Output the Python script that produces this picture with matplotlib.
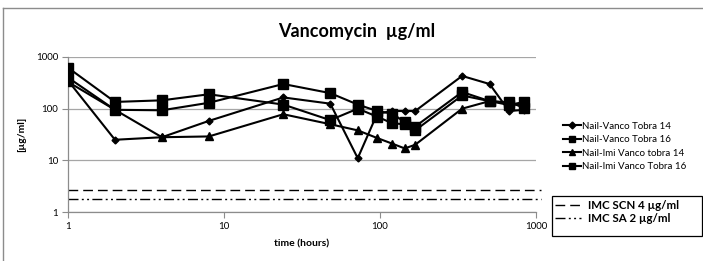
import numpy as np
import matplotlib
matplotlib.use('Agg')
import matplotlib.pyplot as plt
from matplotlib.lines import Line2D
from matplotlib.patches import Rectangle

plt.rcParams['font.family'] = ['Lato', 'DejaVu Sans']

# sampling times (hours)
times = [1, 2, 4, 8, 24, 48, 72, 96, 120, 144, 168, 336, 504, 672, 840]

# vancomycin concentration, ug/ml
nail_vt14 = [350, 25, 28, 58, 165, 125, 11, 80, 90, 90, 90, 430, 300, 90, 95]
nail_vt16 = [620, 135, 145, 190, 120, 60, 100, 70, 52, 50, 38, 180, 140, 118, 135]
imi_vt14 = [330, 95, 28, 29, 78, 50, 38, 27, 21, 17, 20, 100, 140, 130, 110]
imi_vt16 = [400, 95, 93, 130, 300, 200, 120, 90, 80, 55, 45, 210, 140, 132, 105]

series_labels = ['Nail-Vanco Tobra 14', 'Nail-Vanco Tobra 16',
                 'Nail-Imi Vanco tobra 14', 'Nail-Imi Vanco Tobra 16']

# reference levels
imc_scn = 2.7
imc_sa = 1.75
ref_labels = ['IMC SCN 4 \u00b5g/ml', 'IMC SA 2 \u00b5g/ml']

W, H = 703, 261
fig = plt.figure(figsize=(W / 100, H / 100), dpi=100)
ax = fig.add_axes([68 / W, 1 - 212 / H, (536 - 68) / W, (212 - 57) / H])

lw = 1.5
ax.plot(times, nail_vt14, color='black', lw=lw, marker='D', ms=3.5, zorder=3)
ax.plot(times, nail_vt16, color='black', lw=lw, marker='s', ms=6.5, zorder=3)
ax.plot(times, imi_vt14, color='black', lw=lw, marker='^', ms=6, zorder=3)
ax.plot(times, imi_vt16, color='black', lw=lw, marker='s', ms=6.5, zorder=3)

dash_scn = (0, (7, 3.6))
dash_sa = (0, (7.2, 2.4, 1.4, 2.4, 1.4, 2.4))
ax.plot([1, 1080], [imc_scn, imc_scn], color='black', lw=1.0,
        linestyle=dash_scn, clip_on=False)
ax.plot([1, 1080], [imc_sa, imc_sa], color='black', lw=1.0,
        linestyle=dash_sa, clip_on=False)

ax.set_xscale('log')
ax.set_yscale('log')
ax.set_xlim(1, 1000)
ax.set_ylim(1, 1000)
ax.set_xticks([1, 10, 100, 1000])
ax.set_xticklabels(['1', '10', '100', '1000'])
ax.set_yticks([1, 10, 100, 1000])
ax.set_yticklabels(['1', '10', '100', '1000'])
ax.minorticks_off()
ax.tick_params(axis='both', labelsize=7, length=4, color='#8c8c8c',
               direction='out', pad=3)
ax.grid(axis='y', color='#a6a6a6', lw=0.9)
ax.set_axisbelow(True)
for s in ['top', 'right']:
    ax.spines[s].set_visible(False)
for s in ['left', 'bottom']:
    ax.spines[s].set_color('#8c8c8c')
    ax.spines[s].set_linewidth(0.9)

ax.set_xlabel('time (hours)', fontsize=7.5, fontweight='bold', labelpad=6)
ax.set_ylabel('[\u00b5g/ml]', fontsize=7.5, fontweight='bold', labelpad=7)

fig.text(357 / W, 1 - 32 / H, 'Vancomycin  \u00b5g/ml', fontsize=13,
         fontweight='bold', ha='center', va='center')

# series legend (no frame)
handles = [
    Line2D([], [], color='black', lw=lw, marker='D', ms=3.5),
    Line2D([], [], color='black', lw=lw, marker='s', ms=5),
    Line2D([], [], color='black', lw=lw, marker='^', ms=5),
    Line2D([], [], color='black', lw=lw, marker='s', ms=5),
]
leg1 = fig.legend(handles, series_labels, loc='upper left',
                  bbox_to_anchor=(556 / W, 1 - 115 / H), frameon=False,
                  fontsize=7, handlelength=1.9, handletextpad=0.1,
                  labelspacing=0.45, borderpad=0.2)

# reference legend (box drawn separately)
ref_handles = [
    Line2D([], [], color='black', lw=1.0, linestyle=dash_scn),
    Line2D([], [], color='black', lw=1.0, linestyle=dash_sa),
]
leg2 = fig.legend(ref_handles, ref_labels, loc='upper left',
                  bbox_to_anchor=(552 / W, 1 - 197 / H), frameon=False,
                  fontsize=8.3, handlelength=2.2, handletextpad=0.6,
                  labelspacing=0.1, borderpad=0.3, borderaxespad=0)
for t in leg2.get_texts():
    t.set_fontweight('bold')
fig.add_artist(Rectangle((552 / W, 1 - 236 / H), 150 / W, 40 / H,
                         transform=fig.transFigure, fill=False,
                         edgecolor='black', lw=0.9))

# chart border
fig.add_artist(Line2D([3 / W, 3 / W], [0, 1 - 8 / H], color='#8c8c8c',
                      lw=1.0, transform=fig.transFigure))
fig.add_artist(Line2D([3 / W, 1], [1 - 8 / H, 1 - 8 / H], color='#8c8c8c',
                      lw=1.0, transform=fig.transFigure))

fig.savefig('out.png', dpi=100)
